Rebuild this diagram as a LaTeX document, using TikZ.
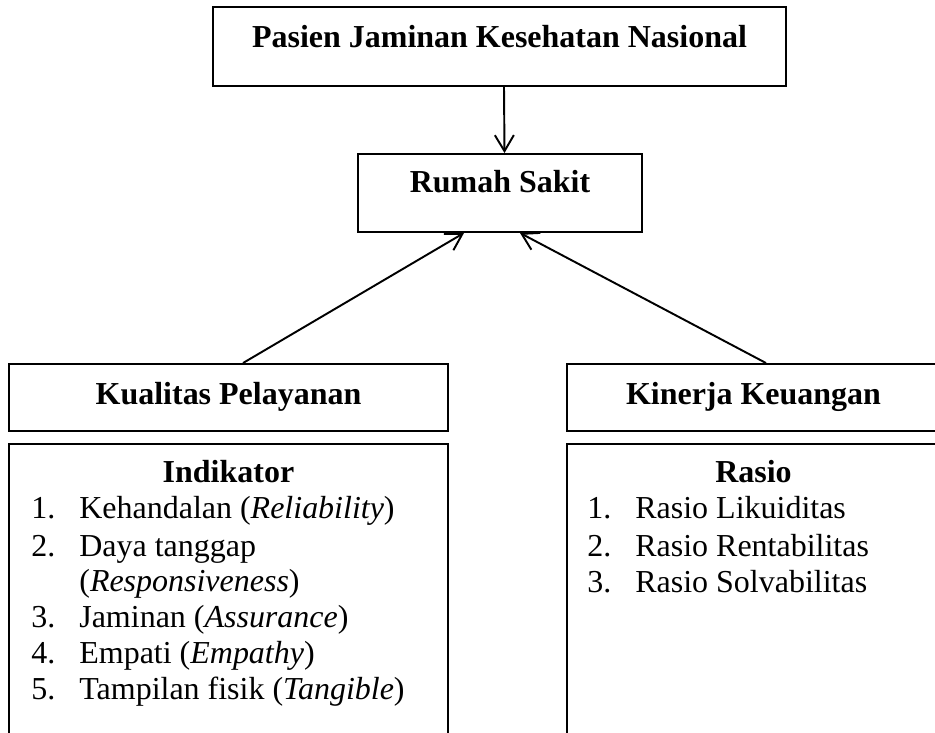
\documentclass[tikz,border=0pt]{standalone}
\usepackage{fontspec}
\setmainfont{Liberation Serif}
\usepackage{tikz}
\usetikzlibrary{positioning,arrows.meta,calc}

\begin{document}
\begin{tikzpicture}[
    box/.style={draw, line width=1.1pt, rectangle, inner sep=0pt},
    head/.style={font=\fontsize{18.2}{22}\selectfont\bfseries, anchor=base},
    item/.style={font=\fontsize{18.2}{22}\selectfont, anchor=base west, inner sep=0pt},
    arr/.style={-{Straight Barb[length=3.2mm,width=3.8mm]}, line width=1.1pt},
]
\useasboundingbox (0,0) rectangle (18.7,14.66);
\clip (0,0) rectangle (18.7,14.66);

% boxes
\node[box, minimum width=11.46cm, minimum height=1.58cm] (pasien) at (9.99,13.73) {};
\node[box, minimum width=5.68cm, minimum height=1.56cm] (rs) at (10.0,10.80) {};
\node[box, minimum width=8.78cm, minimum height=1.34cm] (kualitas) at (4.57,6.71) {};
\node[box, minimum width=7.46cm, minimum height=1.34cm] (kinerja) at (15.07,6.71) {};
\node[box, minimum width=8.78cm, minimum height=6.3cm, anchor=north] (indikator) at (4.57,5.8) {};
\node[box, minimum width=7.46cm, minimum height=6.3cm, anchor=north] (rasio) at (15.07,5.8) {};

% titles
\node[head] (tPasien) at (9.99,13.7) {Pasien Jaminan Kesehatan Nasional};
\node[head] (tRs) at (10.0,10.8) {Rumah Sakit};
\node[head] (tKualitas) at (4.57,6.56) {Kualitas Pelayanan};
\node[head] (tKinerja) at (15.07,6.56) {Kinerja Keuangan};
\node[head] (tIndikator) at (4.57,5.0) {Indikator};
\node[head] (tRasio) at (15.07,5.0) {Rasio};

% arrows
\draw[arr] ([xshift=0.09cm]pasien.south) -- ([xshift=0.09cm]rs.north);
\draw[arr] ([xshift=0.29cm]kualitas.north) -- ([xshift=-0.72cm]rs.south);
\draw[arr] ([xshift=0.25cm]kinerja.north) -- ([xshift=0.4cm]rs.south);

% indikator list
\foreach \n/\y/\t in {1/4.28/{Kehandalan (\textit{Reliability})}, 2/3.52/{Daya tanggap}, 3/2.1/{Jaminan (\textit{Assurance})}, 4/1.38/{Empati (\textit{Empathy})}, 5/0.66/{Tampilan fisik (\textit{Tangible})}} {
    \node[item] (iNum\n) at (0.62,\y) {\n.};
    \node[item] (iItem\n) at (1.58,\y) {\t};
}
\node[item] (iItem2b) at (1.58,2.82) {(\textit{Responsiveness})};

% rasio list
\foreach \n/\y/\t in {1/4.28/Likuiditas, 2/3.52/Rentabilitas, 3/2.8/Solvabilitas} {
    \node[item] (rNum\n) at (11.74,\y) {\n.};
    \node[item] (rItem\n) at (12.7,\y) {Rasio \t};
}
\end{tikzpicture}
\end{document}
